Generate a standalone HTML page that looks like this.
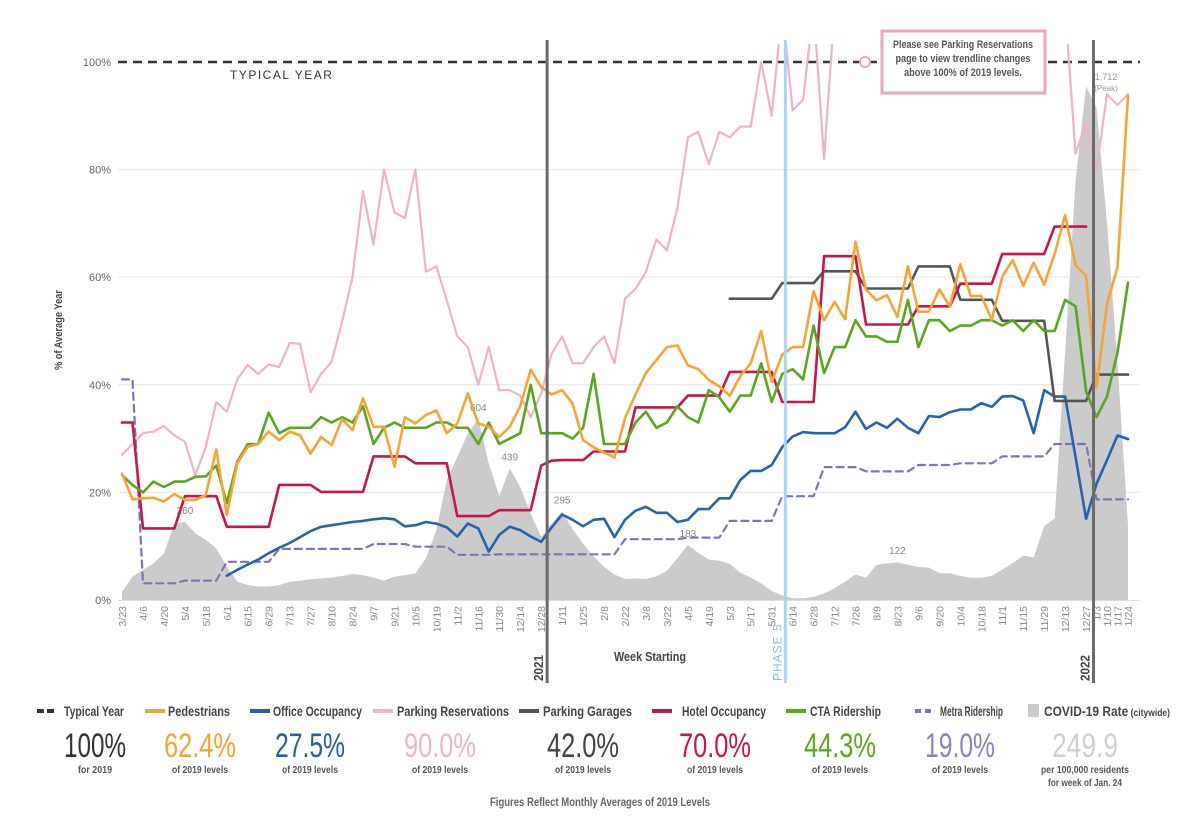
<!DOCTYPE html>
<html><head><meta charset="utf-8"><title>Chicago Recovery Dashboard</title>
<style>
html,body{margin:0;padding:0;background:#fff;}
svg{display:block;font-family:"Liberation Sans Narrow","Liberation Sans",sans-serif;}
</style></head>
<body>
<svg id="chart" width="1200" height="837" viewBox="0 0 1200 837" xmlns="http://www.w3.org/2000/svg">
<defs><clipPath id="plotclip"><rect x="100" y="44" width="1060" height="560"/></clipPath></defs>
<rect x="0" y="0" width="1200" height="837" fill="#fff"/>
<g id="grid"></g>
<g id="covid"></g>
<g id="xaxis"></g>
<g id="yaxis"></g>
<g id="series" clip-path="url(#plotclip)"></g>
<g id="annot"></g>
<g id="legend"></g>
</svg>
<script>
const tickWeeks = [0,2,4,6,8,10,12,14,16,18,20,22,24,26,28,30,32,34,36,38,40,42,44,46,48,50,52,54,56,58,60,62,64,66,68,70,72,74,76,78,80,82,84,86,88,90,92,93,94,95,96];
const tickLabels = ["3/23","4/6","4/20","5/4","5/18","6/1","6/15","6/29","7/13","7/27","8/10","8/24","9/7","9/21","10/5","10/19","11/2","11/16","11/30","12/14","12/28","1/11","1/25","2/8","2/22","3/8","3/22","4/5","4/19","5/3","5/17","5/31","6/14","6/28","7/12","7/26","8/9","8/23","9/6","9/20","10/4","10/18","11/1","11/15","11/29","12/13","12/27","1/3","1/10","1/17","1/24"];
const yTicks = [0,20,40,60,80,100];
const pedestrians = [23.5,18.7,18.9,19,18.3,19.7,18.6,18.6,19.5,28,15.8,25.4,28.5,29,31.3,29.7,31.3,30.6,27.2,30.3,28.8,33.6,31.6,37.5,32.2,32.2,24.8,34,32.8,34.4,35.2,31,32.8,38.4,32.8,32.2,30.3,32.2,36,42.8,39.6,
38.2,39,36.5,29.7,28.4,27.4,26.5,33.8,38.2,42.2,44.6,47,47.3,43.6,42.9,40.9,39.7,38,41.6,44,50,40.5,45.6,47,47,57.4,52,55.4,52.2,66.6,
57.7,55.7,56.7,52.6,62,53.6,53.6,57.7,54.6,62.4,56.5,56.5,52.1,60.1,63.2,58.4,62.7,58.6,64.3,71.5,62.2,60.3,39.5,55,61.9,93.8];
const cta = [23.2,21.4,20,22,21,22,22,22.9,23,25,18,25.7,29,29,34.8,31,32,32,32,34,33,34,33,36,29,32,33,32,32,32,33,33,32,32,29,33,29,30,31,40,31,
31,31,30,32,42,29,29,29,33,35,32,33,36,34,33,39,37.7,35,38,38,44,36.8,42,42.9,41,51,42.2,47,47,52,
49,49,48,48,55.8,47,52,52,50,51,51,52,52,51,52,50,52,50,50,55.8,54.6,38.8,34,37.8,46,59];
const hotel = [33,33,13.3,13.3,13.3,13.3,19.3,19.3,19.3,19.3,13.6,13.6,13.6,13.6,13.6,21.4,21.4,21.4,21.4,20.1,20.1,20.1,20.1,20.1,26.7,26.7,26.7,26.7,25.4,25.4,25.4,25.4,15.6,15.6,15.6,15.6,16.7,16.7,16.7,16.7,25,25.9,
26,26,26,27.6,27.6,27.6,27.6,35.8,35.8,35.8,35.8,35.8,38,38,38,38,42.4,42.4,42.4,42.4,42.4,36.8,36.8,36.8,36.8,63.9,63.9,63.9,63.9,
51.2,51.2,51.2,51.2,51.2,54.6,54.6,54.6,54.6,58.8,58.8,58.8,58.8,64.3,64.3,64.3,64.3,64.3,69.4,69.4,69.4,69.4,null,null,null,null];
const garages = [null,null,null,null,null,null,null,null,null,null,null,null,null,null,null,null,null,null,null,null,null,null,null,null,null,null,null,null,null,null,null,null,null,null,null,null,null,null,null,null,null,null,null,null,null,null,null,null,null,null,null,null,null,null,null,null,null,null,
56,56,56,56,56,58.9,58.9,58.9,58.9,61.1,61.1,61.1,61.1,57.9,57.9,57.9,57.9,57.9,62,62,62,62,55.8,55.8,55.8,55.8,51.9,51.9,51.9,51.9,51.9,37,37,37,37,41.9,41.9,41.9,41.9];
const office = [null,null,null,null,null,null,null,null,null,null,4.5,5.6,6.6,7.5,8.7,9.7,10.6,11.7,12.8,13.6,
13.9,14.2,14.5,14.7,15,15.2,15,13.7,13.9,14.5,14.2,13.5,11.8,14.2,13.3,9,12.1,13.6,13,11.8,10.8,13.5,
15.9,14.9,13.7,14.9,15.1,11.7,14.9,16.6,17.3,16.2,16.2,14.5,14.9,16.9,16.9,18.9,18.9,22.3,24,24,25.1,28.4,30.4,31.2,31,31,31,32.1,35,
31.8,33,32,33.7,32,31,34.2,34,34.9,35.4,35.4,36.6,35.9,37.8,37.9,37.1,31,39,37.8,37.8,26.5,15.1,21.6,26,30.6,29.9];
const metra = [41,41,3.1,3.1,3.1,3.1,3.6,3.6,3.6,3.6,7.1,7.1,7.1,7.1,7.1,9.5,9.5,9.5,9.5,9.5,9.5,9.5,9.5,9.5,10.4,10.4,10.4,10.4,9.9,9.9,9.9,9.9,8.4,8.4,8.4,8.4,
8.5,8.5,8.5,8.5,8.5,8.5,8.5,8.5,8.5,8.5,8.5,8.5,11.3,11.3,11.3,11.3,11.3,11.3,11.6,11.6,11.6,11.6,14.7,14.7,14.7,14.7,14.7,19.3,19.3,19.3,19.3,24.7,24.7,24.7,24.7,
23.9,23.9,23.9,23.9,23.9,25.1,25.1,25.1,25.1,25.4,25.4,25.4,25.4,26.7,26.7,26.7,26.7,26.7,29,29,29,29,18.7,18.7,18.7,18.7];
const parking = [27,29,31,31.3,32.3,30.6,29.4,23.2,28.5,36.8,35,41,43.7,42,43.8,43.3,47.8,47.6,38.6,42,44.3,51.7,60,76,66,80,72,71,80,61,62,55.7,49,47,40,47,39,39,38,34,38.4,45.8,
49,44,44,47,49,44,56,57.8,61,67,65,72.8,86,87,81,87,86,88,88,100,90,110,91,93,110,82,110,
110,110,110,110,110,110,110,110,110,110,110,110,110,110,110,110,110,110,110,110,110,110,
83,88.7,80,94,92,94];
const covidRate = [27,78,100,122,155,255,260,222,200,172,111,61,50,45,45,50,61,64,69,72,75,80,87,83,75,64,78,83,89,139,233,400,477,555,604,455,346,439,377,288,211,254,
295,236,188,145,111,85,70,72,70,79,97,139,183,157,135,131,121,91,75,55,30,15,6,6,10,22,39,61,85,
74,117,122,126,117,111,108,89,89,80,74,74,80,101,123,148,142,246,271,825,1400,1712,1640,1257,788,250];
const covidLabels = [[6,"260"],[34,"604"],[37,"439"],[42,"295"],[54,"183"],[74,"122"]];

const NS = "http://www.w3.org/2000/svg";
const X0 = 122, XW = 10.479, Y0 = 600, YH = 5.38, COVID_PER_PCT = 17.93;
function xs(w){ return X0 + w*XW; }
function ys(v){ return Y0 - v*YH; }
function mk(tag, attrs, parent){ const e=document.createElementNS(NS,tag); for(const k in attrs) e.setAttribute(k,attrs[k]); parent.appendChild(e); return e; }
function squeeze(el, len){ el.setAttribute('textLength', len); el.setAttribute('lengthAdjust','spacingAndGlyphs'); }

const grid = document.getElementById('grid');
const yaxis = document.getElementById('yaxis');
yTicks.forEach(t=>{
  if(t>0 && t<100){
    const g = mk('line',{x1:118,x2:1140,y1:ys(t),y2:ys(t),stroke:'#ececec','stroke-width':1.5},grid);
    
    
  }
  const tl = mk('text',{x:111,y:ys(t)+4,'text-anchor':'end','font-size':11,fill:'#666','font-family':'Liberation Sans, sans-serif'},yaxis);
  tl.textContent = t+'%';
  
  
});
const yt = mk('text',{x:0,y:0,transform:'translate(62,330) rotate(-90)','text-anchor':'middle','font-size':11,'font-weight':'bold',fill:'#444'},yaxis);
yt.textContent = '% of Average Year';
squeeze(yt, 80);



// covid area
const cov = document.getElementById('covid');
let pts = xs(0)+','+Y0+' ';
covidRate.forEach((r,i)=>{ pts += xs(i)+','+ys(r/COVID_PER_PCT)+' '; });
pts += xs(covidRate.length-1)+','+Y0;
const area = mk('polygon',{points:pts,fill:'#cbcbcb'},cov);


covidLabels.forEach(([w,txt])=>{
  const t = mk('text',{x:xs(w),y:ys(covidRate[w]/COVID_PER_PCT)-8,'text-anchor':'middle','font-size':10,fill:'#888','font-family':'Liberation Sans, sans-serif'},cov);
  t.textContent = txt;
  
  
});
const pk1 = mk('text',{x:1106,y:80,'text-anchor':'middle','font-size':9,fill:'#999','font-family':'Liberation Sans, sans-serif'},cov);
pk1.textContent='1,712';


const pk2 = mk('text',{x:1106,y:91,'text-anchor':'middle','font-size':8,fill:'#999','font-family':'Liberation Sans, sans-serif'},cov);
pk2.textContent='(Peak)';



// x axis
const xa = document.getElementById('xaxis');
const ax = mk('line',{x1:118,x2:1140,y1:600.5,y2:600.5,stroke:'#ddd','stroke-width':1},xa);


tickWeeks.forEach((w,i)=>{
  const t = mk('text',{x:0,y:0,transform:'translate('+(xs(w)+4)+',606) rotate(-90)','text-anchor':'end','font-size':10.5,fill:'#888','font-family':'Liberation Sans, sans-serif'},xa);
  t.textContent = tickLabels[i];
  
  
});
const xt = mk('text',{x:650,y:661,'text-anchor':'middle','font-size':13,'font-weight':'bold',fill:'#444'},xa);
xt.textContent='Week Starting';
squeeze(xt, 72);



// annotations
const an = document.getElementById('annot');
const ty = mk('line',{x1:118,x2:1140,y1:62,y2:62,stroke:'#333','stroke-width':2.5,'stroke-dasharray':'9,6'},grid);


const tyt = mk('text',{x:230,y:79,'font-size':12,fill:'#333','letter-spacing':'1.5','font-family':'Liberation Sans, sans-serif'},an);
tyt.textContent='TYPICAL YEAR';


[[40.57,'2021'],[92.71,'2022']].forEach(([w,lab])=>{
  const l = mk('line',{x1:xs(w),x2:xs(w),y1:40,y2:683,stroke:'#6b6b6b','stroke-width':3},an);
  
  
  const t = mk('text',{x:0,y:0,transform:'translate('+(xs(w)-4)+',681) rotate(-90)','font-size':13,'font-weight':'bold',fill:'#444'},an);
  t.textContent=lab;
  squeeze(t, 26);
  
  
});
const ph = mk('line',{x1:xs(63.3),x2:xs(63.3),y1:40,y2:683,stroke:'#a9d4f2','stroke-width':3},an);


const pht = mk('text',{x:0,y:0,transform:'translate('+(xs(63.3)-4)+',681) rotate(-90)','font-size':12,fill:'#8bbfe6','letter-spacing':'1','font-family':'Liberation Sans, sans-serif'},an);
pht.textContent='PHASE 5';


const box = mk('rect',{x:882,y:31,width:163,height:62,fill:'#fff',stroke:'#e8a9be','stroke-width':3},an);


[["Please see Parking Reservations",140],["page to view trendline changes",135],["above 100% of 2019 levels.",118]].forEach(([s,len],i)=>{
  const t = mk('text',{x:963,y:48+i*14,'text-anchor':'middle','font-size':11,'font-weight':'bold',fill:'#555'},an);
  t.textContent=s;
  squeeze(t, len);
  
  
});
const dot = mk('circle',{cx:865,cy:62,r:5,fill:'#fff',stroke:'#e8a9be','stroke-width':2},an);



// series
const sg = document.getElementById('series');
function drawSeries(vals, color, width, dash, name){
  let d=''; let pen=false;
  vals.forEach((v,i)=>{
    if(v===null){ pen=false; return; }
    d += (pen?'L':'M') + xs(i).toFixed(1) + ',' + ys(v).toFixed(1) + ' ';
    pen=true;
  });
  const p = mk('path',{d:d,fill:'none',stroke:color,'stroke-width':width,'stroke-linejoin':'round','stroke-linecap':'round'},sg);
  if(dash) p.setAttribute('stroke-dasharray',dash);
  
  
}
drawSeries(parking,'#efb3c6',2.2,null,'parking-reservations-line');
drawSeries(metra,'#7d74b4',2.2,'7,5','metra-ridership-line');
drawSeries(office,'#2563ae',2.6,null,'office-occupancy-line');
drawSeries(garages,'#555555',2.6,null,'parking-garages-line');
drawSeries(hotel,'#c8164a',2.6,null,'hotel-occupancy-line');
drawSeries(cta,'#5aa61e',2.6,null,'cta-ridership-line');
drawSeries(pedestrians,'#f5a534',2.6,null,'pedestrians-line');

// legend
const lg = document.getElementById('legend');
const legendItems = [
  {name:'Typical Year',nl:60,color:'#333',val:'100%',vl:62,valColor:'#333',sub:[['for 2019',34]],sx:37,tx:64,cx:95,type:'dash'},
  {name:'Pedestrians',nl:62,color:'#f5a534',val:'62.4%',vl:72,valColor:'#f5a534',sub:[['of 2019 levels',56]],sx:145,tx:168,cx:200,type:'line'},
  {name:'Office Occupancy',nl:89,color:'#2563ae',val:'27.5%',vl:70,valColor:'#2a5da8',sub:[['of 2019 levels',56]],sx:250,tx:273,cx:310,type:'line'},
  {name:'Parking Reservations',nl:112,color:'#efb3c6',val:'90.0%',vl:72,valColor:'#f0b5c8',sub:[['of 2019 levels',56]],sx:373,tx:397,cx:440,type:'line'},
  {name:'Parking Garages',nl:89,color:'#555',val:'42.0%',vl:72,valColor:'#444',sub:[['of 2019 levels',56]],sx:519,tx:543,cx:583,type:'line'},
  {name:'Hotel Occupancy',nl:84,color:'#c8164a',val:'70.0%',vl:72,valColor:'#c8164a',sub:[['of 2019 levels',56]],sx:652,tx:682,cx:715,type:'line'},
  {name:'CTA Ridership',nl:71,color:'#5aa61e',val:'44.3%',vl:72,valColor:'#5aa721',sub:[['of 2019 levels',56]],sx:786,tx:810,cx:840,type:'line'},
  {name:'Metra Ridership',nl:63,color:'#7d74b4',val:'19.0%',vl:70,valColor:'#8b83bf',sub:[['of 2019 levels',56]],sx:915,tx:940,cx:960,type:'mdash'},
  {name:'COVID-19 Rate',nl:126,color:'#cbcbcb',val:'249.9',vl:66,valColor:'#d0d0d0',sub:[['per 100,000 residents',88],['for week of Jan. 24',74]],sx:1028,tx:1044,cx:1085,type:'box'}
];
legendItems.forEach(it=>{
  let sw;
  if(it.type==='box'){ sw = mk('rect',{x:it.sx,y:704,width:11,height:13,fill:it.color},lg); }
  else { sw = mk('line',{x1:it.sx,x2:it.sx+20,y1:711,y2:711,stroke:it.color,'stroke-width':4}, lg);
    if(it.type==='dash') sw.setAttribute('stroke-dasharray','7,3');
    if(it.type==='mdash') sw.setAttribute('stroke-dasharray','6,4'); }
  
  
  const h = mk('text',{x:it.tx,y:716,'font-size':14,'font-weight':'bold',fill:'#444'},lg);
  h.textContent = it.name;
  if(it.type==='box'){ const sp=mk('tspan',{'font-size':10},h); sp.textContent=' (citywide)'; }
  squeeze(h, it.nl);
  
  
  const v = mk('text',{x:it.cx,y:757,'text-anchor':'middle','font-size':34,fill:it.valColor},lg);
  v.textContent = it.val;
  squeeze(v, it.vl);
  
  
  it.sub.forEach(([s,len],i)=>{
    const st = mk('text',{x:it.cx,y:773+i*13,'text-anchor':'middle','font-size':10.5,'font-weight':'bold',fill:'#555'},lg);
    st.textContent = s;
    squeeze(st, len);
    
    
  });
});
const ft = mk('text',{x:600,y:806,'text-anchor':'middle','font-size':12,'font-weight':'bold',fill:'#666'},lg);
ft.textContent='Figures Reflect Monthly Averages of 2019 Levels';
squeeze(ft, 220);


</script>
</body></html>
